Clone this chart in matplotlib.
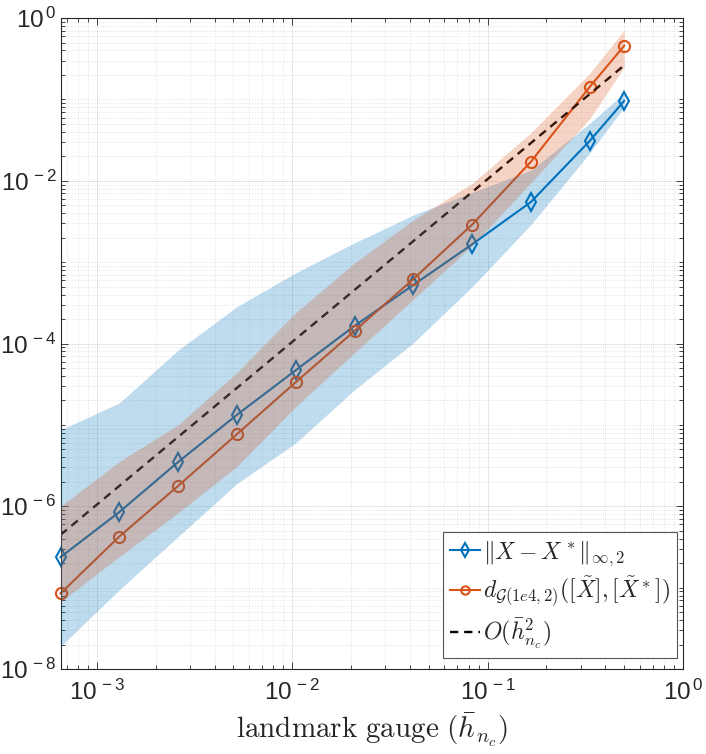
import numpy as np
import matplotlib
matplotlib.use("Agg")
import matplotlib.pyplot as plt
from matplotlib.ticker import LogLocator, FuncFormatter, NullFormatter

plt.rcParams["font.family"] = ["Liberation Sans", "DejaVu Sans"]
plt.rcParams["mathtext.fontset"] = "custom"
plt.rcParams["mathtext.rm"] = "Liberation Sans"
plt.rcParams["mathtext.it"] = "Liberation Sans:italic"
plt.rcParams["mathtext.bf"] = "Liberation Sans:bold"

# landmark gauge h = 1/n
h = [1/1536, 1/768, 1/384, 1/192, 1/96, 1/48, 1/24, 1/12, 1/6, 1/3, 1/2]

# ||X - X*||_{inf,2}: median and band
err_inf = [2.37e-7, 8.5e-7, 3.5e-6, 1.33e-5, 4.7e-5, 1.65e-4, 5.25e-4, 1.66e-3, 5.5e-3, 0.031, 0.096]
err_inf_hi = [8.7e-6, 1.86e-5, 8.3e-5, 2.84e-4, 7.4e-4, 1.73e-3, 3.8e-3, 7.2e-3, 0.0135, 0.051, 0.12]
err_inf_lo = [1.9e-8, 9.4e-8, 4.25e-7, 1.9e-6, 6.0e-6, 2.7e-5, 1.02e-4, 5.0e-4, 2.9e-3, 0.022, 0.081]

# d_G distance: median and band
err_g = [8.5e-8, 4.25e-7, 1.78e-6, 7.7e-6, 3.35e-5, 1.43e-4, 6.2e-4, 2.9e-3, 0.0172, 0.143, 0.457]
err_g_hi = [1.0e-6, 3.55e-6, 1.0e-5, 4.4e-5, 2.4e-4, 9.8e-4, 3.3e-3, 9.3e-3, 0.039, 0.21, 0.71]
err_g_lo = [6.7e-8, 2.4e-7, 8.3e-7, 3.1e-6, 1.68e-5, 7.7e-5, 3.5e-4, 1.6e-3, 9.5e-3, 0.058, 0.25]

# O(h^2) reference
ref = [4.45e-7, 1.78e-6, 7.12e-6, 2.85e-5, 1.14e-4, 4.56e-4, 1.82e-3, 7.29e-3, 0.0292, 0.1167, 0.2625]

blue = "#0072BD"
orange = "#D95319"
dark = "#262626"

fig = plt.figure(figsize=(7.06, 7.54), dpi=100)
ax = fig.add_axes([0.0857, 0.1127, 0.8817, 0.8633])
ax.set_xscale("log")
ax.set_yscale("log")

l1, = ax.plot(h, err_inf, "-d", color=blue, lw=1.5, ms=9, mew=1.5,
              mfc="none", zorder=2, clip_on=False)
l2, = ax.plot(h, err_g, "-o", color=orange, lw=1.5, ms=8, mew=1.5,
              mfc="none", zorder=2, clip_on=False)
l3, = ax.plot(h, ref, color="k", lw=1.7, ls=(0, (3.5, 2.5)), zorder=2)

ax.fill_between(h, err_inf_lo, err_inf_hi, color=blue, alpha=0.25, lw=0, zorder=3)
ax.fill_between(h, err_g_lo, err_g_hi, color=orange, alpha=0.25, lw=0, zorder=3)

ax.set_xlim(1/1536, 1)
ax.set_ylim(1e-8, 1)

ax.xaxis.set_major_locator(LogLocator(base=10, numticks=10))
ax.xaxis.set_minor_locator(LogLocator(base=10, subs=np.arange(2, 10), numticks=20))
ax.yaxis.set_major_locator(LogLocator(base=100, numticks=10))
ax.yaxis.set_minor_locator(LogLocator(base=10, subs=np.arange(1, 10), numticks=20))

fmt = FuncFormatter(lambda v, _: r"$10^{\,%d}$" % int(round(np.log10(v))))
ax.xaxis.set_major_formatter(fmt)
ax.yaxis.set_major_formatter(fmt)
ax.xaxis.set_minor_formatter(NullFormatter())
ax.yaxis.set_minor_formatter(NullFormatter())

ax.tick_params(which="both", direction="in", top=True, right=True,
               colors=dark, labelcolor=dark, width=0.6)
ax.tick_params(which="major", length=5, labelsize=17.5)
ax.tick_params(which="minor", length=3)
ax.tick_params(axis="x", pad=8)
ax.tick_params(axis="y", pad=3)

ax.grid(True, which="major", color=dark, alpha=0.13, lw=0.6, ls="-")
ax.grid(True, which="minor", color=dark, alpha=0.22, lw=0.5, ls=(0, (1, 2)))
ax.set_axisbelow(True)
for s in ax.spines.values():
    s.set_color(dark)
    s.set_linewidth(0.8)

xl = ax.set_xlabel(r"$\mathrm{landmark\ gauge}\ (\bar{h}_{n_c})$", fontsize=21,
                   labelpad=4, color=dark)
xl.set_math_fontfamily("cm")

leg = ax.legend([l1, l2, l3],
                [r"$\|X - X^*\|_{\infty,2}$",
                 r"$d_{\mathcal{G}(1e4,2)}([\tilde{X}],[\tilde{X}^*])$",
                 r"$O(\bar{h}_{n_c}^2)$"],
                loc="lower right", bbox_to_anchor=(0.99, 0.017), borderaxespad=0,
                fontsize=17, handlelength=1.3, handletextpad=0.1,
                labelspacing=0.3, borderpad=0.3, fancybox=False,
                framealpha=1, edgecolor="#555555", markerscale=0.75)
leg.get_frame().set_linewidth(0.8)
for t in leg.get_texts():
    t.set_math_fontfamily("cm")
    t.set_color(dark)

fig.savefig("out.png", dpi=100)
